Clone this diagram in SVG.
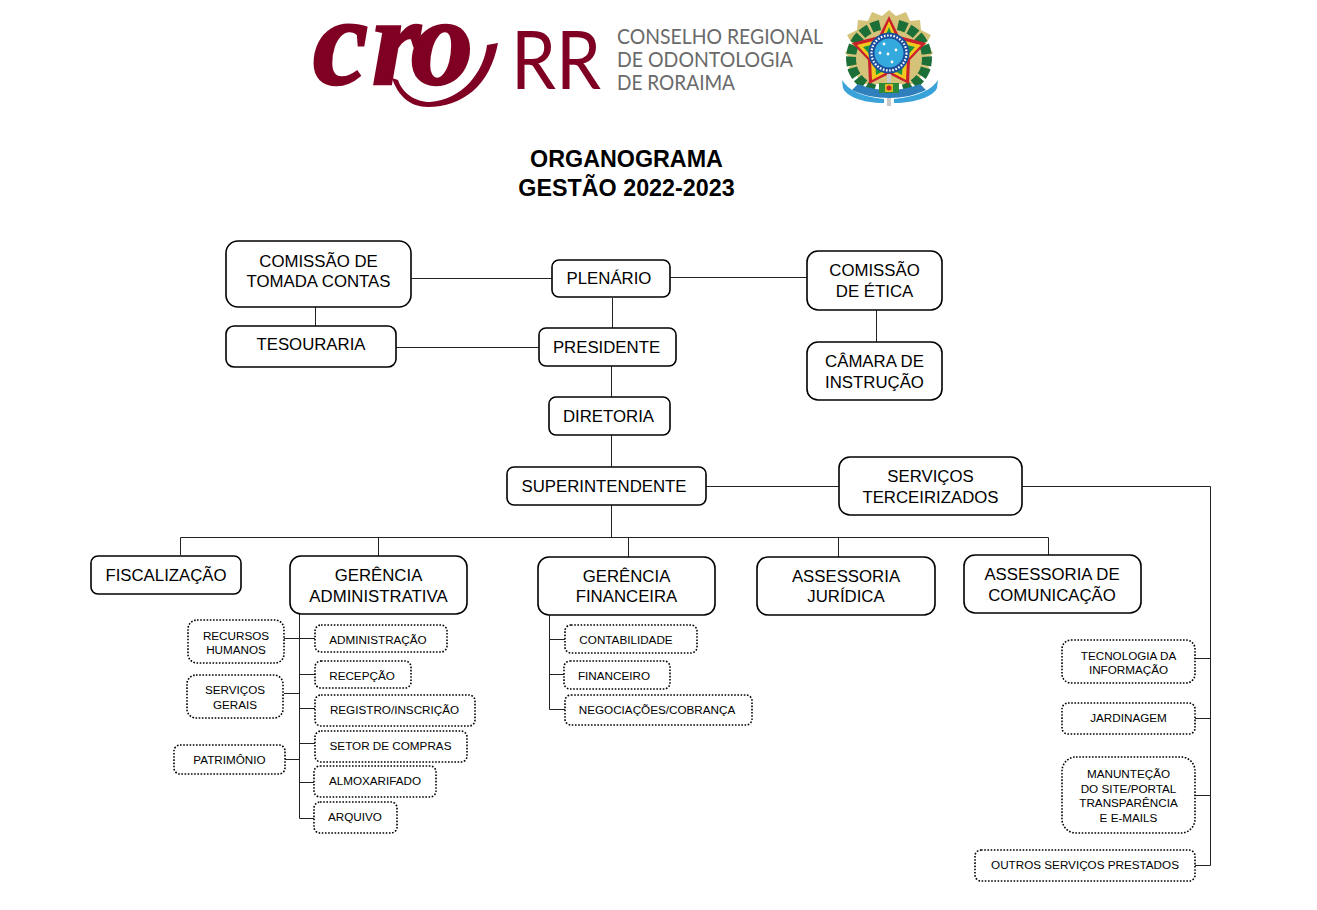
<svg xmlns="http://www.w3.org/2000/svg" width="1317" height="910" viewBox="0 0 1317 910">
<style>
text{font-family:"Liberation Sans",Arial,sans-serif;text-anchor:middle;fill:#000}
.b rect{fill:#fff;stroke:#000;stroke-width:1.6}
.b text{font-size:16.8px}
.d rect{fill:#fff;stroke:#000;stroke-width:1.6;stroke-dasharray:1.6 1.6}
.d text{font-size:11.7px}
#connectors path{fill:none;stroke:#222;stroke-width:1}
.t{font-size:23.3px;font-weight:bold}
.lg{font-family:"Lato","Open Sans",sans-serif;font-weight:400;font-size:21px;fill:#6a6a6a;text-anchor:start}
</style>
<rect width="1317" height="910" fill="#fff"/>
<g id="logo">
<text x="313 372 411" y="84" style="font-family:'Liberation Serif',serif;font-weight:bold;font-style:italic;font-size:124px;fill:#7f0022;stroke:#7f0022;stroke-width:2.500;text-anchor:start">cro</text>
<path d="M392 78C398 96 410 107 428 107C462 107 490 86 498 43L487 45C484 72 462 100 430 102C414 102 402 92 398 80Z" fill="#7f0022"/>
<text x="511" y="89" style="font-family:'Lato',sans-serif;font-weight:400;font-size:82px;fill:#7f0022;text-anchor:start" textLength="90" lengthAdjust="spacingAndGlyphs">RR</text>
<text class="lg" x="617" y="44" textLength="206" lengthAdjust="spacingAndGlyphs">CONSELHO REGIONAL</text>
<text class="lg" x="617" y="67" textLength="176" lengthAdjust="spacingAndGlyphs">DE ODONTOLOGIA</text>
<text class="lg" x="617" y="90" textLength="118" lengthAdjust="spacingAndGlyphs">DE RORAIMA</text>
</g>
<g id="brasao">
<polygon points="889,10 896,16 906,12 910,21 920,20 921,30 931,35 926,44 933,53 926,60 930,70 921,74 919,84 859,84 857,74 848,70 852,60 845,53 852,44 847,35 857,30 858,20 868,21 872,12 882,16" fill="#d5c37a"/>
<path d="M880 25C858 30 846 50 853 70C857 80 866 87 876 90" fill="none" stroke="#1d6f38" stroke-width="10" stroke-dasharray="9 2.500"/>
<path d="M898 25C920 30 932 50 925 70C921 80 912 87 902 90" fill="none" stroke="#1d6f38" stroke-width="10" stroke-dasharray="9 2.500"/>
<polygon points="889,16 899,36 926,43 910,60 909,84 889,74 869,84 868,60 852,43 879,36" fill="#c9202c"/>
<polygon points="889,21 897,39 921,45 907,60 906,80 889,71 872,80 871,60 857,45 881,39" fill="#f3c81c"/>
<polygon points="889,27 895,42 915,47 903,60 902,75 889,68 876,75 875,60 863,47 883,42" fill="#169443"/>
<circle cx="889" cy="53" r="20.500" fill="#1b4f9c"/>
<circle cx="889" cy="53" r="17.500" fill="none" stroke="#fff" stroke-width="2.200" stroke-dasharray="1.600 1.600"/>
<circle cx="889" cy="53" r="14.500" fill="#34a9de"/>
<g fill="#fff"><circle cx="884" cy="44" r="1.400"/><circle cx="896" cy="50" r="1.400"/><circle cx="888" cy="54" r="1.400"/><circle cx="880" cy="53" r="1.400"/><circle cx="892" cy="62" r="1.400"/></g>
<rect x="887" y="74" width="4" height="32" fill="#c9c9c9"/>
<path d="M842 80C848 90 862 97 884 99L884 103C862 103 846 96 843 88ZM938 80C932 90 916 97 894 99L894 103C916 103 934 96 937 88Z" fill="#39a2d8"/>
<path d="M852 90C862 95 875 98 889 98C903 98 916 95 926 90L920 84C910 88 900 90 889 90C878 90 868 88 858 84Z" fill="#2f7fbd"/>
<rect x="879" y="83" width="20" height="10" fill="#2d8a3a"/>
<rect x="885" y="84" width="8" height="8" fill="#e0b820"/>
<circle cx="889" cy="88" r="2.500" fill="#c9202c"/>
</g>
<g id="titulo"><text class="t" x="626.500" y="167">ORGANOGRAMA</text><text class="t" x="626.500" y="196">GESTÃO 2022-2023</text></g>
<g id="connectors">
<path d="M411.500 278.500H552M670 277.500H807M315.500 307V326M612.500 298V329M396 347.500H539M876.500 310V342M611.500 366V398M611.500 435V468M706 486.500H839M611.500 505V537.500"/>
<path d="M180.500 555V537.500H1048.500V555M378.500 537.500V556M628.500 537.500V557M838.500 537.500V557"/>
<path d="M1022 486.500H1210.500V865.500H1195M1195 658.500H1210.500M1195 718.500H1210.500M1195 795.500H1210.500"/>
<path d="M299.500 614V818.500H314M299.500 638.500H315M299.500 674.500H315M299.500 708.500H315M299.500 743.500H315M299.500 782.500H314M284 638.500H299.500M284 693.500H299.500M285 759.500H299.500"/>
<path d="M549.500 615V709.500H565M549.500 639.500H565M549.500 674.500H564"/>
</g>
<g id="comissao-tomada" class="b"><rect x="226" y="241" width="185" height="66" rx="12"/><text x="318.500" y="267">COMISSÃO DE</text><text x="318.500" y="287">TOMADA CONTAS</text></g>
<g id="tesouraria" class="b"><rect x="226" y="326" width="170" height="41" rx="8"/><text x="311" y="350">TESOURARIA</text></g>
<g id="plenario" class="b"><rect x="552" y="260" width="118" height="37" rx="7"/><text x="609" y="284">PLENÁRIO</text></g>
<g id="presidente" class="b"><rect x="539" y="328" width="137" height="38" rx="7"/><text x="606.500" y="353">PRESIDENTE</text></g>
<g id="comissao-etica" class="b"><rect x="807" y="251" width="135" height="59" rx="11"/><text x="874.500" y="276">COMISSÃO</text><text x="874.500" y="297">DE ÉTICA</text></g>
<g id="camara" class="b"><rect x="807" y="342" width="135" height="58" rx="11"/><text x="874.500" y="367">CÂMARA DE</text><text x="874.500" y="388">INSTRUÇÃO</text></g>
<g id="diretoria" class="b"><rect x="549" y="397" width="121" height="38" rx="7"/><text x="608.500" y="422">DIRETORIA</text></g>
<g id="superintendente" class="b"><rect x="507" y="467" width="199" height="38" rx="7"/><text x="604" y="492">SUPERINTENDENTE</text></g>
<g id="servicos-terceirizados" class="b"><rect x="839" y="457" width="183" height="58" rx="11"/><text x="930.500" y="482">SERVIÇOS</text><text x="930.500" y="503">TERCEIRIZADOS</text></g>
<g id="fiscalizacao" class="b"><rect x="91" y="556" width="150" height="38" rx="7"/><text x="166" y="581">FISCALIZAÇÃO</text></g>
<g id="gerencia-adm" class="b"><rect x="290" y="556" width="177" height="58" rx="11"/><text x="378.500" y="581">GERÊNCIA</text><text x="378.500" y="602">ADMINISTRATIVA</text></g>
<g id="gerencia-fin" class="b"><rect x="538" y="557" width="177" height="58" rx="11"/><text x="626.500" y="582">GERÊNCIA</text><text x="626.500" y="602">FINANCEIRA</text></g>
<g id="assessoria-jur" class="b"><rect x="757" y="557" width="178" height="58" rx="11"/><text x="846" y="582">ASSESSORIA</text><text x="846" y="602">JURÍDICA</text></g>
<g id="assessoria-com" class="b"><rect x="964" y="555" width="177" height="58" rx="11"/><text x="1052" y="580">ASSESSORIA DE</text><text x="1052" y="601">COMUNICAÇÃO</text></g>
<g id="recursos" class="d"><rect x="188" y="620" width="96" height="43" rx="9"/><text x="236" y="640">RECURSOS</text><text x="236" y="654">HUMANOS</text></g>
<g id="servicos-gerais" class="d"><rect x="187" y="675" width="96" height="43" rx="9"/><text x="235" y="694">SERVIÇOS</text><text x="235" y="709">GERAIS</text></g>
<g id="patrimonio" class="d"><rect x="174" y="745" width="111" height="29" rx="6"/><text x="229.500" y="764">PATRIMÔNIO</text></g>
<g id="administracao" class="d"><rect x="315" y="625" width="132" height="27" rx="6"/><text x="378" y="644">ADMINISTRAÇÃO</text></g>
<g id="recepcao" class="d"><rect x="315" y="661" width="96" height="27" rx="6"/><text x="362" y="680">RECEPÇÃO</text></g>
<g id="registro" class="d"><rect x="315" y="695" width="160" height="31" rx="6"/><text x="394.500" y="714">REGISTRO/INSCRIÇÃO</text></g>
<g id="compras" class="d"><rect x="315" y="731" width="152" height="31" rx="6"/><text x="390.500" y="750">SETOR DE COMPRAS</text></g>
<g id="almoxarifado" class="d"><rect x="314" y="766" width="122" height="31" rx="6"/><text x="375" y="785">ALMOXARIFADO</text></g>
<g id="arquivo" class="d"><rect x="314" y="802" width="83" height="31" rx="6"/><text x="355" y="821">ARQUIVO</text></g>
<g id="contabilidade" class="d"><rect x="565" y="625" width="132" height="28" rx="6"/><text x="626" y="644">CONTABILIDADE</text></g>
<g id="financeiro" class="d"><rect x="564" y="661" width="106" height="28" rx="6"/><text x="614" y="680">FINANCEIRO</text></g>
<g id="negociacoes" class="d"><rect x="565" y="695" width="187" height="30" rx="6"/><text x="657" y="714">NEGOCIAÇÕES/COBRANÇA</text></g>
<g id="ti" class="d"><rect x="1062" y="640" width="133" height="43" rx="9"/><text x="1128.500" y="660">TECNOLOGIA DA</text><text x="1128.500" y="674">INFORMAÇÃO</text></g>
<g id="jardinagem" class="d"><rect x="1062" y="703" width="133" height="31" rx="6"/><text x="1128.500" y="722">JARDINAGEM</text></g>
<g id="manutencao" class="d"><rect x="1062" y="757" width="133" height="76" rx="14"/><text x="1128.500" y="778">MANUNTEÇÃO</text><text x="1128.500" y="793">DO SITE/PORTAL</text><text x="1128.500" y="807">TRANSPARÊNCIA</text><text x="1128.500" y="822">E E-MAILS</text></g>
<g id="outros" class="d"><rect x="975" y="850" width="220" height="31" rx="6"/><text x="1085" y="869">OUTROS SERVIÇOS PRESTADOS</text></g>
</svg>
